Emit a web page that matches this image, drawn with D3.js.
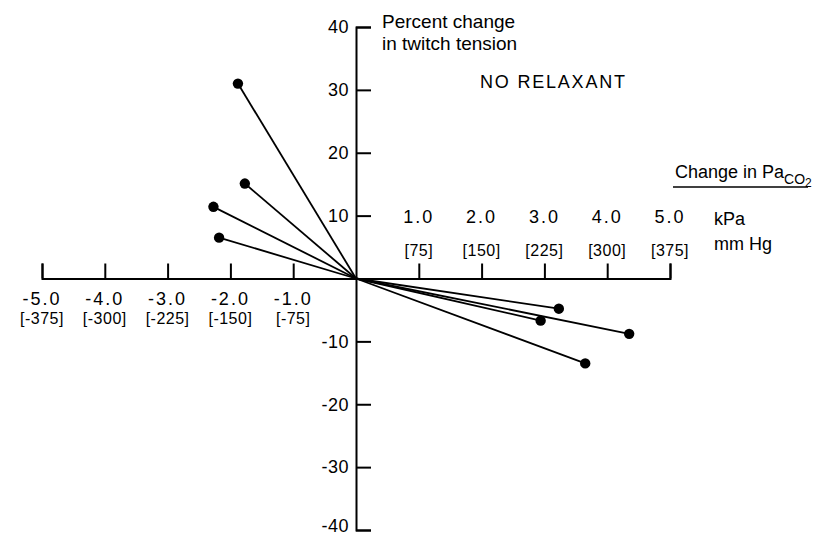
<!DOCTYPE html>
<html><head><meta charset="utf-8">
<script src="https://cdn.jsdelivr.net/npm/d3@7"></script>
<style>
body{margin:0;background:#fff;}
text{font-family:"Liberation Sans",Arial,sans-serif;fill:#000;}
</style></head>
<body><svg id="c" width="836" height="536"></svg>
<script>
// Data
const kpaTicks = [-5, -4, -3, -2, -1, 1, 2, 3, 4, 5];
const kpaLabels = ["-5.0", "-4.0", "-3.0", "-2.0", "-1.0", "1.0", "2.0", "3.0", "4.0", "5.0"];
const mmHgLabels = ["[-375]", "[-300]", "[-225]", "[-150]", "[-75]", "[75]", "[150]", "[225]", "[300]", "[375]"];
const yTicks = [40, 30, 20, 10, -10, -20, -30, -40];
// Change in PaCO2 (kPa) and percent change in twitch tension
const changePaCO2 = [-1.88, -1.77, -2.27, -2.18, 3.23, 2.94, 4.35, 3.65];
const changeTension = [31.0, 15.1, 11.4, 6.5, -4.8, -6.7, -8.8, -13.5];

const svg = d3.select("#c");
const x = d3.scaleLinear().domain([-5, 5]).range([42, 670]);
const y = d3.scaleLinear().domain([-40, 40]).range([530, 27]);

// horizontal axis
const gx = svg.append("g").attr("transform", `translate(0,${y(0)})`)
  .call(d3.axisTop(x).tickValues(kpaTicks).tickFormat("").tickSizeInner(15).tickSizeOuter(15));
gx.selectAll("path,line").attr("stroke", "#000").attr("stroke-width", 2);

// vertical axis
const gy = svg.append("g").attr("transform", `translate(${x(0)},0)`)
  .call(d3.axisLeft(y).tickValues(yTicks).tickFormat(d => String(d))
    .tickSizeInner(-15).tickSizeOuter(-15).tickPadding(7));
gy.selectAll("path,line").attr("stroke", "#000").attr("stroke-width", 2);
gy.selectAll("text").style("font-size", "18px").attr("fill", "#000").style("letter-spacing", "0.5px");
gy.selectAll(".tick text").filter(d => d === -40).attr("dy", "0.1em");
gy.select(".domain").attr("fill", "none");

// x labels
kpaTicks.forEach((v, i) => {
  const neg = v < 0;
  svg.append("text").attr("x", x(v)).attr("y", neg ? 305 : 223)
    .attr("text-anchor", "middle").style("font-size", "18px").style("letter-spacing", "2px")
    .text(kpaLabels[i]);
  svg.append("text").attr("x", x(v)).attr("y", neg ? 324 : 256)
    .attr("text-anchor", "middle").style("font-size", "16px").style("letter-spacing", "0.5px")
    .text(mmHgLabels[i]);
});

svg.append("text").attr("x", 714).attr("y", 225).style("font-size", "18px").text("kPa");
svg.append("text").attr("x", 714).attr("y", 250).style("font-size", "18px").text("mm Hg");

// x title
const tt = svg.append("text").attr("x", 675).attr("y", 178).style("font-size", "18px");
tt.append("tspan").text("Change in Pa");
tt.append("tspan").attr("dy", 6).style("font-size", "14px").text("CO");
tt.append("tspan").attr("dy", 3).style("font-size", "12px").text("2");
svg.append("line").attr("x1", 673).attr("x2", 808).attr("y1", 187).attr("y2", 187)
  .attr("stroke", "#000").attr("stroke-width", 1.5);

// y title
svg.append("text").attr("x", 382).attr("y", 28).style("font-size", "19px").text("Percent change");
svg.append("text").attr("x", 382).attr("y", 50).style("font-size", "19px").text("in twitch tension");
svg.append("text").attr("x", 480).attr("y", 88).style("font-size", "18px").style("letter-spacing", "1.8px").text("NO RELAXANT");

// lines and points
const idx = d3.range(changePaCO2.length);
svg.append("g").selectAll("line").data(idx).join("line")
  .attr("x1", x(0)).attr("y1", y(0))
  .attr("x2", i => x(changePaCO2[i])).attr("y2", i => y(changeTension[i]))
  .attr("stroke", "#000").attr("stroke-width", 1.8);
svg.append("g").selectAll("circle").data(idx).join("circle")
  .attr("cx", i => x(changePaCO2[i])).attr("cy", i => y(changeTension[i]))
  .attr("r", 5.2).attr("fill", "#000");
</script></body></html>
